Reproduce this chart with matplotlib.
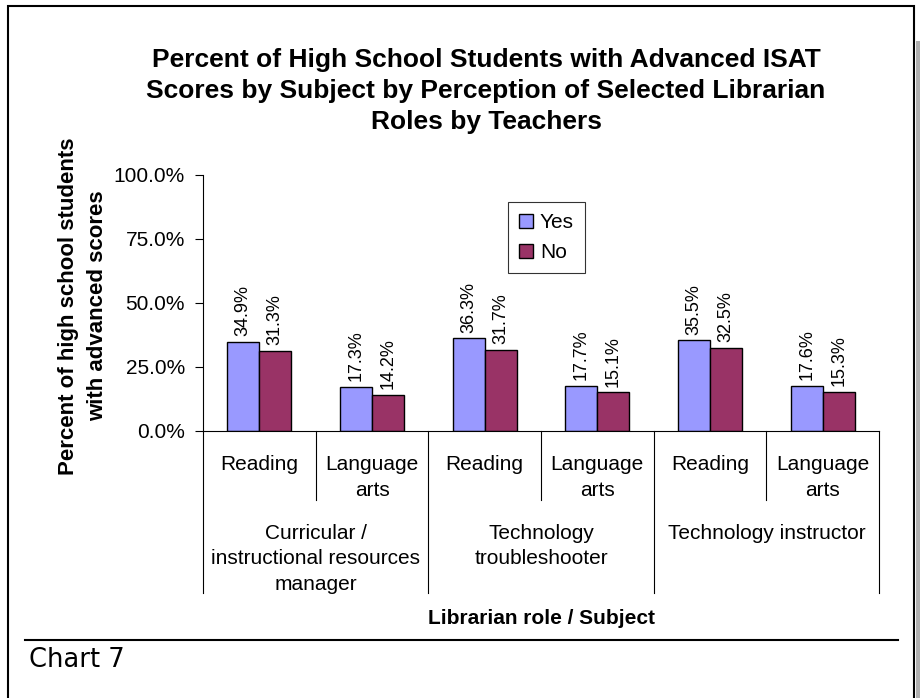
import numpy as np
import matplotlib
matplotlib.use("Agg")
import matplotlib.pyplot as plt
from matplotlib.patches import Rectangle
from matplotlib.lines import Line2D
import matplotlib.transforms as mtransforms

plt.rcParams['font.family'] = ['Liberation Sans', 'DejaVu Sans']

subjects = ["Reading", "Language\narts"] * 3
roles = ["Curricular /\ninstructional resources\nmanager",
         "Technology\ntroubleshooter",
         "Technology instructor"]
yes_vals = [34.9, 17.3, 36.3, 17.7, 35.5, 17.6]
no_vals = [31.3, 14.2, 31.7, 15.1, 32.5, 15.3]
series_names = ["Yes", "No"]
yticks = [0, 25, 50, 75, 100]

W, H = 921, 698
fig = plt.figure(figsize=(W / 100, H / 100), dpi=100)

def px(x, y):
    return x / W, 1 - y / H

# axes placed in pixel terms
x0, x1, ytop, ybot = 203, 879, 175, 431
ax = fig.add_axes([x0 / W, 1 - ybot / H, (x1 - x0) / W, (ybot - ytop) / H])

n = len(subjects)
x = np.arange(n)
bw = 0.284
ax.bar(x - bw / 2, yes_vals, bw, color="#9999ff", edgecolor="black", linewidth=1.0, label=series_names[0])
ax.bar(x + bw / 2, no_vals, bw, color="#993366", edgecolor="black", linewidth=1.0, label=series_names[1])

for xs, vals in [(x - bw / 2, yes_vals), (x + bw / 2, no_vals)]:
    for xi, v in zip(xs, vals):
        ax.annotate(f"{v:.1f}%", (xi, v), xytext=(0, 4), textcoords="offset points",
                    rotation=90, ha="center", va="bottom", fontsize=13)

ax.set_xlim(-0.5, n - 0.5)
ax.set_ylim(0, 100)
ax.set_yticks(yticks)
ax.set_yticklabels([f"{t:.1f}%" for t in yticks], fontsize=15)
ax.tick_params(axis="y", direction="out", length=6, width=0.8, pad=7)
ax.set_xticks([])
for s in ["top", "right"]:
    ax.spines[s].set_visible(False)
for s in ["left", "bottom"]:
    ax.spines[s].set_linewidth(0.8)

# multi-level category axis below the plot
ah = ybot - ytop
def ay(ypix):
    return (ybot - ypix) / ah

trans = mtransforms.blended_transform_factory(ax.transData, ax.transAxes)
for i in range(n + 1):
    bound = i - 0.5
    yend = 593 if i % 2 == 0 else 500
    ax.add_line(Line2D([bound, bound], [0, ay(yend)], transform=trans,
                       color="black", linewidth=0.8, clip_on=False))

for i, lab in enumerate(subjects):
    ax.text(i, ay(455), lab, transform=trans, ha="center", va="top",
            fontsize=15, linespacing=1.5)
for j, lab in enumerate(roles):
    ax.text(2 * j + 0.5, ay(524), lab, transform=trans, ha="center", va="top",
            fontsize=15, linespacing=1.43)

ax.text(0.5, ay(618), "Librarian role / Subject", transform=ax.transAxes,
        ha="center", va="center", fontsize=15, fontweight="bold")

fig.text(*px(83, 306), "Percent of high school students\nwith advanced scores",
         rotation=90, ha="center", va="center", fontsize=16, fontweight="bold",
         linespacing=1.45)

fig.text(*px(486, 91), "Percent of High School Students with Advanced ISAT\n"
         "Scores by Subject by Perception of Selected Librarian\nRoles by Teachers",
         ha="center", va="center", fontsize=19, fontweight="bold", linespacing=1.35)

leg = ax.legend(loc="upper left", bbox_to_anchor=px(508, 202),
                bbox_transform=fig.transFigure, fontsize=15, frameon=True,
                fancybox=False, edgecolor="black", handlelength=0.65,
                handleheight=0.65, handletextpad=0.33, labelspacing=0.5,
                borderpad=0.55, borderaxespad=0)
leg.get_frame().set_linewidth(0.8)

# outer frame, drop shadow, caption
fig.add_artist(Rectangle(px(916, 698), 4 / W, (698 - 41) / H, transform=fig.transFigure,
                         facecolor="#b0b0b0", edgecolor="none"))
fig.add_artist(Rectangle(px(8, 702), (914 - 8) / W, (702 - 6) / H, transform=fig.transFigure,
                         facecolor="none", edgecolor="black", linewidth=1.5))
fig.add_artist(Line2D([px(25, 0)[0], px(898, 0)[0]], [px(0, 640)[1]] * 2,
                      transform=fig.transFigure, color="black", linewidth=1.5))
fig.text(*px(29, 660), "Chart 7", ha="left", va="center", fontsize=18.5,
         family="DejaVu Sans")

fig.savefig("out.png", dpi=100)
